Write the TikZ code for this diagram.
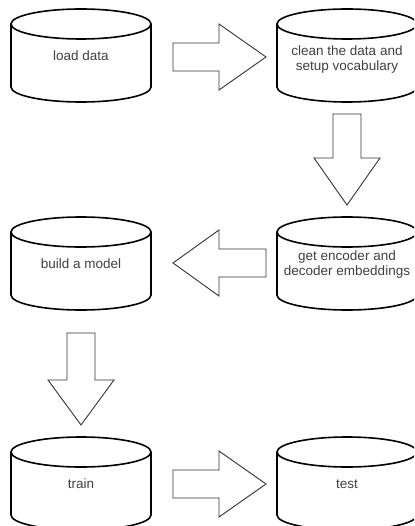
\documentclass[tikz,border=0pt]{standalone}
\usepackage{fontspec}
\setmainfont{Liberation Sans}
\begin{document}
\begin{tikzpicture}[x=1pt,y=-1pt,
  cylline/.style={draw=black,line width=1.6pt,fill=white},
  blockarrow/.style={draw=black!80,line width=0.9pt,fill=white,line join=miter},
  lbl/.style={text=black!75,font=\fontsize{13.5}{15}\selectfont,align=center,inner sep=0pt},
  dbcyl/.pic={
    \draw[cylline] (-70,-31.5) -- (-70,31.5) arc[start angle=180,end angle=0,x radius=70,y radius=15] -- (70,-31.5);
    \draw[cylline] (0,-31.5) ellipse[x radius=70,y radius=15];
  }]
\useasboundingbox (0,0) rectangle (414,526);
\clip (0,0) rectangle (414,526);
\fill[white] (0,0) rectangle (414,526);
% cylinders
\pic at (81,55.5) {dbcyl};
\pic at (347,55.5) {dbcyl};
\pic at (347,263.5) {dbcyl};
\pic at (81,263.5) {dbcyl};
\pic at (81,483.5) {dbcyl};
\pic at (347,483.5) {dbcyl};
% labels
\node[lbl] (load) at (81,56) {load data};
\node[lbl] (clean) at (347,60) {clean the data and\\setup vocabulary};
\node[lbl] (enc) at (347,265) {get encoder and\\decoder embeddings};
\node[lbl] (model) at (81,263.5) {build a model};
\node[lbl] (train) at (81,484) {train};
\node[lbl] (test) at (347,484) {test};
% block arrows
\draw[blockarrow] (173,43) -- (219,43) -- (219,24) -- (266,57) -- (219,90) -- (219,71) -- (173,71) -- cycle;
\draw[blockarrow] (333,114) -- (333,158) -- (314,158) -- (347,205) -- (380,158) -- (361,158) -- (361,114) -- cycle;
\draw[blockarrow] (266,249) -- (219,249) -- (219,230) -- (173,263) -- (219,296) -- (219,277) -- (266,277) -- cycle;
\draw[blockarrow] (67,333) -- (67,380) -- (48,380) -- (81,425) -- (114,380) -- (95,380) -- (95,333) -- cycle;
\draw[blockarrow] (173,470) -- (219,470) -- (219,451) -- (266,484) -- (219,517) -- (219,498) -- (173,498) -- cycle;
\end{tikzpicture}
\end{document}
